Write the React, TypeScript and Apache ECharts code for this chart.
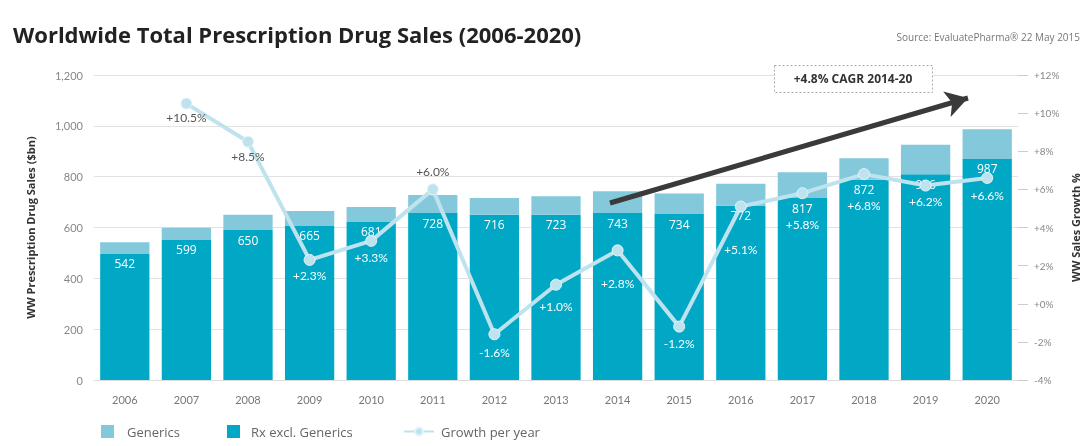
import React, { useEffect, useRef } from "react";
import * as echarts from "echarts";

const years = ["2006", "2007", "2008", "2009", "2010", "2011", "2012", "2013", "2014", "2015", "2016", "2017", "2018", "2019", "2020"];
const rxExclGenerics = [496, 551, 590, 606, 622, 657, 650, 650, 657, 653, 686, 716, 788, 810, 870];
const generics = [46, 48, 60, 59, 59, 71, 66, 73, 86, 81, 86, 101, 84, 116, 117];
const totalLabels = [542, 599, 650, 665, 681, 728, 716, 723, 743, 734, 772, 817, 872, 926, 987];
const growth: (number | null)[] = [null, 10.5, 8.5, 2.3, 3.3, 6.0, -1.6, 1.0, 2.8, -1.2, 5.1, 5.8, 6.8, 6.2, 6.6];
const leftTicks = [0, 200, 400, 600, 800, 1000, 1200];
const rightTicks = [-4, -2, 0, 2, 4, 6, 8, 10, 12];

// label placement styling for the growth line (not data)
const growthLabelAbove = [false, false, false, false, false, true, false, false, false, false, false, false, false, false, false];
const growthLabelOutside = [false, true, true, false, false, true, false, false, false, false, false, false, false, false, false];
const growthLabelDistance = [0, 2, 3, 4, 5, 6, 6, 10, 21, 5, 31, 19, 19, 4, 6];

const FONT = "Lato, 'Open Sans', sans-serif";
const WIDE = "'Open Sans', Lato, sans-serif";
const DARK = "#00a8c6";
const LIGHT = "#84c8dc";
const LINE = "#bfe3ee";

export default function App() {
  const ref = useRef<HTMLDivElement>(null);
  useEffect(() => {
    if (!ref.current) return;
    const chart = echarts.init(ref.current, undefined, { renderer: "svg" });
    const fmtPct = (v: number) => (v >= 0 ? "+" : "") + v.toFixed(1) + "%";
    chart.setOption({
      animation: false,
      textStyle: { fontFamily: FONT },
      title: [
        {
          text: "Worldwide Total Prescription Drug Sales (2006-2020)",
          left: 8,
          top: 18,
          textStyle: { fontSize: 22, fontWeight: "bold", color: "#222", fontFamily: WIDE },
        },
        {
          text: "Source: EvaluatePharma® 22 May 2015",
          right: 5,
          top: 27,
          textStyle: { fontSize: 10, fontWeight: "normal", color: "#777", fontFamily: WIDE },
        },
      ],
      legend: [
        {
          data: [{ name: "Generics", icon: "rect" }],
          left: 96,
          bottom: 3,
          itemWidth: 13,
          itemHeight: 13,
          textStyle: { fontSize: 13, color: "#666", fontFamily: WIDE, padding: [0, 0, 0, 8] },
        },
        {
          data: [{ name: "Rx excl. Generics", icon: "rect" }],
          left: 222,
          bottom: 3,
          itemWidth: 13,
          itemHeight: 13,
          textStyle: { fontSize: 13, color: "#666", fontFamily: WIDE, padding: [0, 0, 0, 6] },
        },
        {
          data: [{ name: "Growth per year" }],
          left: 398,
          bottom: 3,
          itemWidth: 30,
          itemHeight: 10,
          textStyle: { fontSize: 13, color: "#666", fontFamily: WIDE, padding: [0, 0, 0, 2] },
        },
      ],
      grid: { left: 94, right: 72, top: 75, bottom: 66 },
      xAxis: {
        type: "category",
        data: years,
        axisLine: { lineStyle: { color: "#ddd" } },
        axisTick: { show: false },
        axisLabel: { color: "#777", fontSize: 11, margin: 14 },
      },
      yAxis: [
        {
          type: "value",
          min: leftTicks[0],
          max: leftTicks[leftTicks.length - 1],
          interval: 200,
          name: "WW Prescription Drug Sales ($bn)",
          nameLocation: "middle",
          nameRotate: 90,
          nameGap: 58,
          nameTextStyle: { fontSize: 11, fontWeight: "bold", color: "#333", fontFamily: WIDE },
          axisLine: { show: false },
          axisTick: { show: false },
          axisLabel: {
            color: "#888",
            fontSize: 11,
            margin: 11,
            formatter: (v: number) => v.toLocaleString("en-US"),
          },
          splitLine: { lineStyle: { color: "#e2e2e2" } },
        },
        {
          type: "value",
          min: rightTicks[0],
          max: rightTicks[rightTicks.length - 1],
          interval: 2,
          position: "right",
          name: "WW Sales Growth %",
          nameLocation: "middle",
          nameRotate: 90,
          nameGap: 45,
          nameTextStyle: { fontSize: 11, fontWeight: "bold", color: "#333", fontFamily: WIDE },
          axisLine: { show: false },
          axisTick: { show: true, length: 10, inside: false, lineStyle: { color: "#ccc" } },
          axisLabel: {
            color: "#888",
            fontSize: 10,
            margin: 16,
            formatter: (v: number) => (v >= 0 ? "+" : "") + v + "%",
          },
          splitLine: { show: false },
        },
      ],
      series: [
        {
          name: "Rx excl. Generics",
          type: "bar",
          stack: "sales",
          data: rxExclGenerics,
          barCategoryGap: "20%",
          itemStyle: { color: DARK },
          label: {
            show: true,
            position: "insideTop",
            distance: 4,
            color: "#fff",
            fontSize: 12,
            fontFamily: WIDE,
            formatter: (p: any) => String(totalLabels[p.dataIndex]),
          },
        },
        {
          name: "Generics",
          type: "bar",
          stack: "sales",
          data: generics,
          itemStyle: { color: LIGHT },
        },
        {
          name: "Growth per year",
          type: "line",
          yAxisIndex: 1,
          z: 5,
          data: growth.map((v, i) => ({
            value: v,
            label: {
              position: growthLabelAbove[i] ? "top" : "bottom",
              color: growthLabelOutside[i] ? "#555" : "#fff",
              distance: growthLabelDistance[i],
            },
          })),
          symbol: "circle",
          symbolSize: 11,
          lineStyle: { color: LINE, width: 4 },
          itemStyle: { color: LINE, borderColor: "#e4f4f8", borderWidth: 1 },
          label: {
            show: true,
            fontSize: 12,
            formatter: (p: any) => fmtPct(p.value),
          },
          markLine: {
            silent: true,
            symbol: ["none", "arrow"],
            symbolSize: [20, 22],
            label: { show: false },
            lineStyle: { color: "#3a3a3a", width: 5, type: "solid" },
            data: [[{ x: 610, y: 203 }, { x: 968, y: 98 }]],
          },
        },
      ],
      graphic: [
        {
          type: "rect",
          left: 774,
          top: 65,
          shape: { width: 158, height: 27 },
          style: { fill: "#fff", stroke: "#aaa", lineWidth: 1, lineDash: [2, 2] },
          z: 10,
        },
        {
          type: "text",
          x: 853,
          y: 78.5,
          style: {
            text: "+4.8% CAGR 2014-20",
            fontSize: 12,
            fontWeight: "bold",
            fill: "#333",
            fontFamily: WIDE,
            align: "center",
            verticalAlign: "middle",
          },
          z: 11,
        },
      ],
    });
    return () => chart.dispose();
  }, []);
  return <div ref={ref} style={{ position: "fixed", left: 0, top: 0, width: 1090, height: 446 }} />;
}
